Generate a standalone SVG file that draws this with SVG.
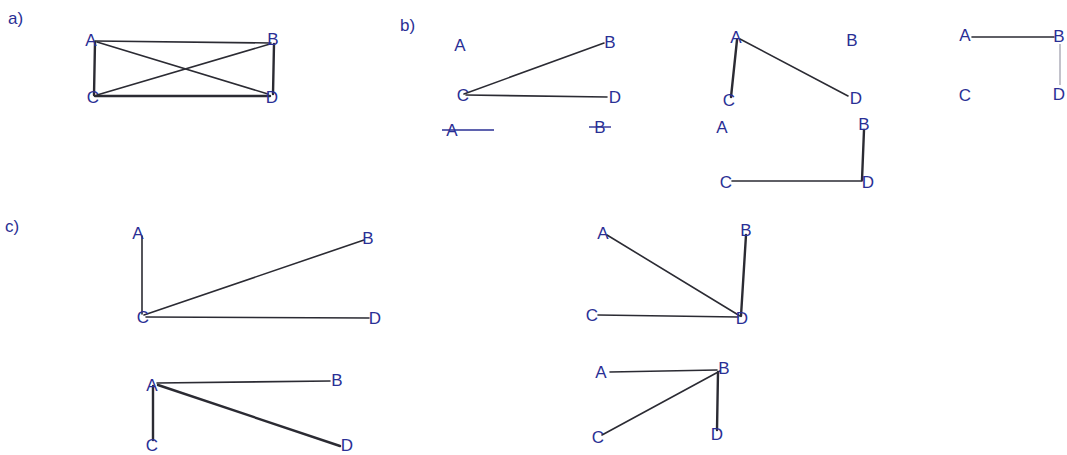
<svg xmlns="http://www.w3.org/2000/svg" width="1067" height="455" viewBox="0 0 1067 455">
<style>
.bg{fill:#ffffff}
.lbl{font-family:"Liberation Sans",Arial,sans-serif;font-size:17px;fill:#2a2f95;text-anchor:middle;dominant-baseline:central}
.sec{font-family:"Liberation Sans",Arial,sans-serif;font-size:17px;fill:#2a2f95;dominant-baseline:central}
.e{stroke:#2b2b33;stroke-width:1.6;fill:none;stroke-linecap:round}
.eb{stroke:#2b2b33;stroke-width:2.4;fill:none;stroke-linecap:round}
.ef{stroke:#9a9aa8;stroke-width:1.2;fill:none}
.eblue{stroke:#2a2f95;stroke-width:1.4;fill:none}
</style>
<rect class="bg" width="1067" height="455"/>

<g id="section-labels">
<text class="sec" x="8" y="18">a)</text>
<text class="sec" x="400" y="25">b)</text>
<text class="sec" x="5" y="226">c)</text>
</g>

<g id="connectors">
<!-- a -->
<line class="e" x1="95" y1="41" x2="271" y2="43"/>
<line class="eb" x1="95" y1="96" x2="270" y2="96"/>
<line class="eb" x1="95" y1="42" x2="94" y2="95"/>
<line class="eb" x1="274" y1="44" x2="273" y2="94"/>
<line class="e" x1="97" y1="42" x2="268" y2="94"/>
<line class="e" x1="97" y1="95" x2="270" y2="44"/>
<!-- b1 -->
<line class="e" x1="464" y1="94" x2="604" y2="43"/>
<line class="e" x1="466" y1="95" x2="607" y2="97"/>
<!-- b row2 fragments -->
<line class="eblue" x1="442" y1="130" x2="494" y2="130"/>
<line class="eblue" x1="589" y1="127" x2="611" y2="127"/>
<!-- b2 -->
<line class="eb" x1="737" y1="40" x2="731" y2="97"/>
<line class="e" x1="740" y1="39" x2="848" y2="96"/>
<!-- b3 -->
<line class="e" x1="972" y1="37" x2="1054" y2="37"/>
<line class="ef" x1="1060" y1="44" x2="1060" y2="85"/>
<!-- b4 -->
<line class="eb" x1="864" y1="130" x2="862" y2="180"/>
<line class="e" x1="732" y1="181" x2="862" y2="181"/>
<!-- c1 -->
<line class="e" x1="142" y1="236" x2="142" y2="314"/>
<line class="e" x1="144" y1="315" x2="364" y2="240"/>
<line class="e" x1="146" y1="317" x2="369" y2="318"/>
<!-- c2 -->
<line class="e" x1="607" y1="235" x2="740" y2="316"/>
<line class="eb" x1="746" y1="235" x2="741" y2="316"/>
<line class="e" x1="598" y1="315" x2="738" y2="317"/>
<!-- c3 -->
<line class="e" x1="157" y1="383" x2="330" y2="381"/>
<line class="eb" x1="153" y1="386" x2="153" y2="440"/>
<line class="eb" x1="158" y1="385" x2="340" y2="446"/>
<!-- c4 -->
<line class="e" x1="610" y1="372" x2="717" y2="370"/>
<line class="e" x1="720" y1="371" x2="602" y2="435"/>
<line class="eb" x1="718" y1="372" x2="717" y2="430"/>
</g>

<g id="a-A"><text class="lbl" x="91" y="40">A</text></g>
<g id="a-B"><text class="lbl" x="273" y="39">B</text></g>
<g id="a-C"><text class="lbl" x="93" y="97">C</text></g>
<g id="a-D"><text class="lbl" x="272" y="97">D</text></g>

<g id="b1-A"><text class="lbl" x="460" y="45">A</text></g>
<g id="b1-B"><text class="lbl" x="610" y="42">B</text></g>
<g id="b1-C"><text class="lbl" x="463" y="95">C</text></g>
<g id="b1-D"><text class="lbl" x="615" y="97">D</text></g>

<g id="b5-A"><text class="lbl" x="452" y="130">A</text></g>
<g id="b5-B"><text class="lbl" x="600" y="127">B</text></g>

<g id="b2-A"><text class="lbl" x="736" y="37">A</text></g>
<g id="b2-B"><text class="lbl" x="852" y="40">B</text></g>
<g id="b2-C"><text class="lbl" x="729" y="100">C</text></g>
<g id="b2-D"><text class="lbl" x="856" y="98">D</text></g>

<g id="b3-A"><text class="lbl" x="965" y="35">A</text></g>
<g id="b3-B"><text class="lbl" x="1059" y="36">B</text></g>
<g id="b3-C"><text class="lbl" x="965" y="95">C</text></g>
<g id="b3-D"><text class="lbl" x="1059" y="94">D</text></g>

<g id="b4-A"><text class="lbl" x="722" y="127">A</text></g>
<g id="b4-B"><text class="lbl" x="864" y="124">B</text></g>
<g id="b4-C"><text class="lbl" x="726" y="182">C</text></g>
<g id="b4-D"><text class="lbl" x="868" y="182">D</text></g>

<g id="c1-A"><text class="lbl" x="138" y="233">A</text></g>
<g id="c1-B"><text class="lbl" x="368" y="238">B</text></g>
<g id="c1-C"><text class="lbl" x="143" y="317">C</text></g>
<g id="c1-D"><text class="lbl" x="375" y="318">D</text></g>

<g id="c2-A"><text class="lbl" x="603" y="233">A</text></g>
<g id="c2-B"><text class="lbl" x="746" y="230">B</text></g>
<g id="c2-C"><text class="lbl" x="592" y="315">C</text></g>
<g id="c2-D"><text class="lbl" x="742" y="318">D</text></g>

<g id="c3-A"><text class="lbl" x="152" y="385">A</text></g>
<g id="c3-B"><text class="lbl" x="337" y="380">B</text></g>
<g id="c3-C"><text class="lbl" x="152" y="445">C</text></g>
<g id="c3-D"><text class="lbl" x="347" y="445">D</text></g>

<g id="c4-A"><text class="lbl" x="601" y="372">A</text></g>
<g id="c4-B"><text class="lbl" x="724" y="368">B</text></g>
<g id="c4-C"><text class="lbl" x="598" y="437">C</text></g>
<g id="c4-D"><text class="lbl" x="717" y="434">D</text></g>
</svg>
